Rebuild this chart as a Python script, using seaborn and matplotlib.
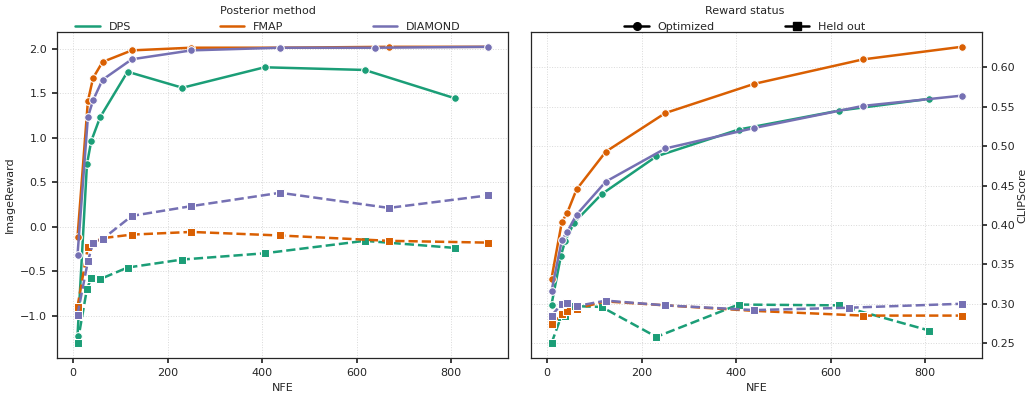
import matplotlib
matplotlib.use("Agg")
import pandas as pd
import matplotlib.pyplot as plt
from matplotlib.lines import Line2D
import seaborn as sns

# %%
# NFE per method (DIAMOND has one slightly shifted evaluation)
nfe_dps = [9, 29, 38, 57, 115, 231, 405, 617, 809]
nfe_fmap = [9, 31, 42, 62, 124, 250, 438, 668, 877]
nfe_diamond = [9, 31, 42, 62, 124, 250, 438, 639, 877]

# ImageReward
ir_dps_opt = [-1.23, 0.70, 0.96, 1.23, 1.74, 1.56, 1.79, 1.76, 1.44]
ir_dps_held = [-1.31, -0.70, -0.58, -0.59, -0.46, -0.37, -0.30, -0.16, -0.24]
ir_fmap_opt = [-0.12, 1.41, 1.67, 1.85, 1.98, 2.01, 2.01, 2.02, 2.02]
ir_fmap_held = [-0.90, -0.23, -0.18, -0.13, -0.09, -0.06, -0.10, -0.16, -0.18]
ir_diamond_opt = [-0.32, 1.23, 1.42, 1.65, 1.88, 1.98, 2.01, 2.01, 2.02]
ir_diamond_held = [-0.99, -0.39, -0.18, -0.14, 0.12, 0.23, 0.38, 0.21, 0.35]

# CLIPScore
clip_dps_opt = [0.299, 0.361, 0.380, 0.403, 0.439, 0.487, 0.521, 0.545, 0.560]
clip_dps_held = [0.250, 0.283, 0.284, 0.297, 0.296, 0.258, 0.299, 0.298, 0.266]
clip_fmap_opt = [0.332, 0.404, 0.415, 0.445, 0.493, 0.542, 0.579, 0.610, 0.626]
clip_fmap_held = [0.274, 0.287, 0.291, 0.294, 0.303, 0.298, 0.291, 0.285, 0.285]
clip_diamond_opt = [0.316, 0.381, 0.391, 0.413, 0.455, 0.497, 0.523, 0.551, 0.564]
clip_diamond_held = [0.285, 0.300, 0.301, 0.297, 0.304, 0.298, 0.292, 0.295, 0.300]

methods = ["DPS", "FMAP", "DIAMOND"]
statuses = ["Optimized", "Held out"]


def long_frame(rows):
    parts = []
    for method, status, nfe, vals in rows:
        parts.append(pd.DataFrame({"NFE": nfe, "score": vals,
                                   "method": method, "status": status}))
    return pd.concat(parts, ignore_index=True)


df_ir = long_frame([
    ("DPS", "Optimized", nfe_dps, ir_dps_opt),
    ("DPS", "Held out", nfe_dps, ir_dps_held),
    ("FMAP", "Optimized", nfe_fmap, ir_fmap_opt),
    ("FMAP", "Held out", nfe_fmap, ir_fmap_held),
    ("DIAMOND", "Optimized", nfe_diamond, ir_diamond_opt),
    ("DIAMOND", "Held out", nfe_fmap, ir_diamond_held),
])
df_clip = long_frame([
    ("DPS", "Optimized", nfe_dps, clip_dps_opt),
    ("DPS", "Held out", nfe_dps, clip_dps_held),
    ("FMAP", "Optimized", nfe_fmap, clip_fmap_opt),
    ("FMAP", "Held out", nfe_fmap, clip_fmap_held),
    ("DIAMOND", "Optimized", nfe_fmap, clip_diamond_opt),
    ("DIAMOND", "Held out", nfe_diamond, clip_diamond_held),
])

# %%
sns.set_theme(style="ticks", rc={
    "font.size": 8, "axes.labelsize": 8, "xtick.labelsize": 8,
    "ytick.labelsize": 8, "legend.fontsize": 8, "legend.title_fontsize": 8,
    "axes.edgecolor": "0.15", "axes.linewidth": 0.9,
    "xtick.major.size": 3.5, "ytick.major.size": 3.5,
})
plt.rcParams["font.family"] = ["DejaVu Sans"]

palette = dict(zip(methods, sns.color_palette("Dark2", 3)))
markers = {"Optimized": "o", "Held out": "s"}
dashes = {"Optimized": "", "Held out": (3.7, 1.6)}

fig = plt.figure(figsize=(10.28, 3.94), dpi=100)
ax1 = fig.add_axes([57 / 1028, 1 - 358 / 394, 451 / 1028, 326 / 394])
ax2 = fig.add_axes([531 / 1028, 1 - 358 / 394, 451 / 1028, 326 / 394])

for ax, df, ylabel in [(ax1, df_ir, "ImageReward"), (ax2, df_clip, "CLIPScore")]:
    sns.lineplot(data=df, x="NFE", y="score", hue="method", style="status",
                 hue_order=methods, style_order=statuses, palette=palette,
                 markers=markers, dashes=dashes, estimator=None, sort=True,
                 linewidth=1.8, markersize=5.5, legend=False, ax=ax)
    ax.grid(True, linestyle=":", linewidth=0.7, color="0.85")
    ax.set_axisbelow(True)
    ax.set_xlabel("NFE")
    ax.set_xticks([0, 200, 400, 600, 800])

ax1.set_ylabel("ImageReward")
ax2.yaxis.tick_right()
ax2.yaxis.set_label_position("right")
ax2.set_ylabel("CLIPScore", labelpad=1.5)
ax2.set_yticks([0.25, 0.30, 0.35, 0.40, 0.45, 0.50, 0.55, 0.60])
ax2.tick_params(axis="y", pad=2.5)

method_handles = [Line2D([], [], color=palette[m], lw=1.8) for m in methods]
fig.legend(method_handles, methods, title="Posterior method", ncol=3,
           loc="lower center", bbox_to_anchor=(268 / 1028, 1 - 34 / 394),
           frameon=False, columnspacing=8.0, handlelength=2.2,
           borderaxespad=0, borderpad=0.2)

status_handles = [Line2D([], [], color="black", lw=1.8, marker=markers[s],
                         markersize=5.5) for s in statuses]
fig.legend(status_handles, statuses, title="Reward status", ncol=2,
           loc="lower center", bbox_to_anchor=(745 / 1028, 1 - 34 / 394),
           frameon=False, columnspacing=6.3, handlelength=2.2,
           borderaxespad=0, borderpad=0.2)

fig.savefig("out.png", dpi=100)
